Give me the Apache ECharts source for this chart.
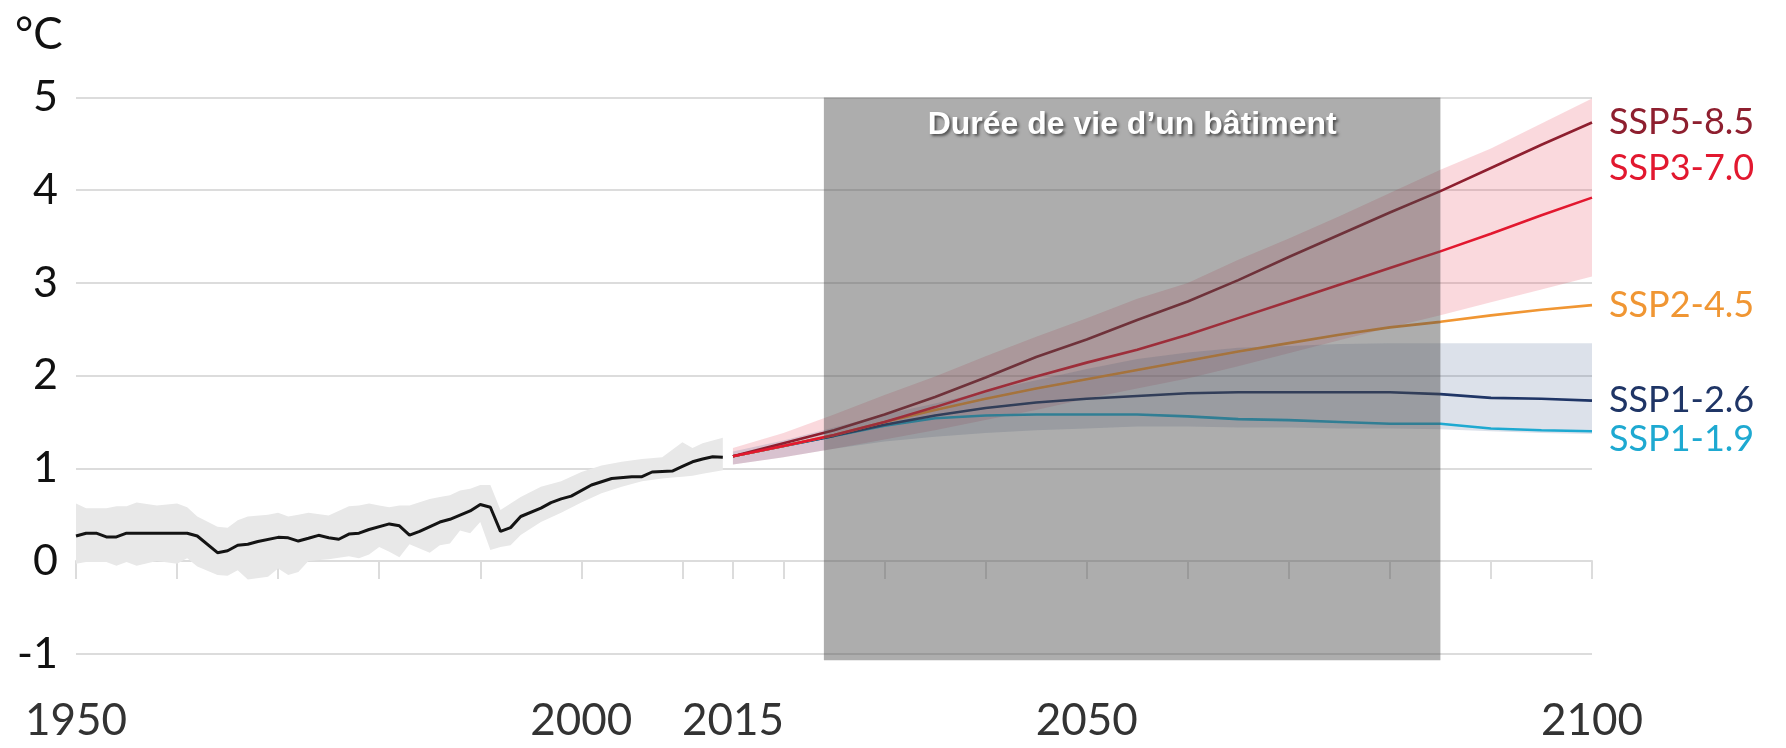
<!DOCTYPE html>
<html>
<head>
<meta charset="utf-8">
<title>Réchauffement et durée de vie d'un bâtiment</title>
<script src="https://cdn.jsdelivr.net/npm/echarts@6/dist/echarts.min.js"></script>
<style>
  html, body { margin: 0; padding: 0; background: #fff; }
  #chart { width: 1786px; height: 748px; }
</style>
</head>
<body>
<div id="chart"></div>
<script>
// historique (moyenne + fourchette)
const histYears = [1950, 1951, 1952, 1953, 1954, 1955, 1961, 1962, 1964, 1965, 1966, 1967, 1968, 1970, 1971, 1972, 1973, 1974, 1975, 1976, 1977, 1978, 1979, 1981, 1982, 1983, 1984, 1986, 1987, 1989, 1990, 1991, 1992, 1993, 1994, 1996, 1997, 1998, 1999, 2001, 2003, 2005, 2006, 2007, 2009, 2010, 2011, 2012, 2013, 2014]
const histMean = [0.27, 0.30, 0.30, 0.26, 0.26, 0.30, 0.30, 0.27, 0.09, 0.11, 0.17, 0.18, 0.21, 0.255, 0.25, 0.215, 0.245, 0.277, 0.25, 0.235, 0.29, 0.30, 0.34, 0.40, 0.38, 0.28, 0.32, 0.42, 0.45, 0.54, 0.61, 0.58, 0.32, 0.36, 0.48, 0.57, 0.63, 0.67, 0.70, 0.82, 0.89, 0.91, 0.91, 0.96, 0.97, 1.02, 1.07, 1.10, 1.125, 1.12]

const histBandYears = [1950, 1951, 1953, 1954, 1955, 1956, 1958, 1960, 1961, 1962, 1964, 1965, 1966, 1967, 1969, 1970, 1971, 1972, 1973, 1975, 1977, 1978, 1979, 1980, 1981, 1982, 1983, 1985, 1986, 1987, 1988, 1989, 1990, 1991, 1992, 1993, 1994, 1996, 1998, 2000, 2002, 2004, 2006, 2008, 2009, 2010, 2011, 2012, 2014]
const histUpper = [0.62, 0.57, 0.57, 0.59, 0.59, 0.63, 0.60, 0.62, 0.58, 0.48, 0.37, 0.36, 0.44, 0.48, 0.50, 0.52, 0.48, 0.50, 0.52, 0.49, 0.59, 0.60, 0.62, 0.60, 0.58, 0.60, 0.60, 0.67, 0.69, 0.71, 0.76, 0.78, 0.82, 0.82, 0.55, 0.62, 0.69, 0.80, 0.86, 0.96, 1.03, 1.07, 1.10, 1.12, 1.20, 1.28, 1.22, 1.27, 1.33]
const histLower = [-0.03, -0.01, -0.01, -0.05, -0.01, -0.05, 0.00, -0.03, 0.03, -0.06, -0.15, -0.16, -0.10, -0.20, -0.17, -0.08, -0.15, -0.12, 0.00, 0.02, 0.05, 0.03, 0.07, 0.15, 0.10, 0.04, 0.18, 0.09, 0.17, 0.19, 0.33, 0.30, 0.42, 0.12, 0.15, 0.17, 0.28, 0.42, 0.52, 0.63, 0.73, 0.80, 0.86, 0.89, 0.90, 0.91, 0.92, 0.94, 0.98]

// scénarios SSP
const projYears = [2015, 2020, 2025, 2030, 2035, 2040, 2045, 2050, 2055, 2060, 2065, 2070, 2075, 2080, 2085, 2090, 2095, 2100]
const ssp119 = [1.13, 1.24, 1.35, 1.46, 1.54, 1.57, 1.58, 1.58, 1.58, 1.56, 1.53, 1.52, 1.50, 1.48, 1.48, 1.43, 1.41, 1.40]
const ssp126 = [1.13, 1.24, 1.35, 1.47, 1.57, 1.65, 1.71, 1.75, 1.78, 1.81, 1.82, 1.82, 1.82, 1.82, 1.80, 1.76, 1.75, 1.73]
const ssp245 = [1.13, 1.24, 1.36, 1.50, 1.63, 1.75, 1.86, 1.96, 2.06, 2.16, 2.26, 2.35, 2.44, 2.52, 2.58, 2.65, 2.71, 2.76]
const ssp370 = [1.13, 1.24, 1.36, 1.50, 1.66, 1.83, 1.99, 2.14, 2.28, 2.44, 2.62, 2.80, 2.98, 3.16, 3.34, 3.53, 3.73, 3.92]
const ssp585 = [1.13, 1.27, 1.41, 1.58, 1.77, 1.98, 2.20, 2.39, 2.60, 2.80, 3.03, 3.28, 3.52, 3.76, 3.99, 4.24, 4.49, 4.73]

// fourchettes des scénarios
const highUpper = [1.22, 1.38, 1.58, 1.79, 1.99, 2.21, 2.42, 2.62, 2.83, 3.00, 3.25, 3.48, 3.72, 3.97, 4.22, 4.45, 4.72, 4.99]
const highLower = [1.04, 1.12, 1.21, 1.31, 1.41, 1.52, 1.63, 1.75, 1.86, 1.97, 2.10, 2.24, 2.38, 2.52, 2.65, 2.79, 2.93, 3.07]
const lowUpper = [1.18, 1.30, 1.44, 1.58, 1.70, 1.83, 1.95, 2.07, 2.18, 2.25, 2.30, 2.32, 2.34, 2.35, 2.35, 2.35, 2.35, 2.35]
const lowLower = [1.04, 1.12, 1.21, 1.29, 1.34, 1.38, 1.41, 1.43, 1.45, 1.45, 1.44, 1.44, 1.43, 1.43, 1.42, 1.40, 1.38, 1.37]

// durée de vie d'un bâtiment
const lifespan = [2024, 2085]
const lifespanRange = [-1.07, 5]
const lifespanLabel = 'Durée de vie d’un bâtiment'

const xTicks = [1950, 1960, 1970, 1980, 1990, 2000, 2010, 2015, 2020, 2030, 2040, 2050, 2060, 2070, 2080, 2090, 2100]
const xLabels = [1950, 2000, 2015, 2050, 2100]

const chart = echarts.init(document.getElementById('chart'))

function pairs(years, values) {
  return years.map((y, i) => [y, values[i]])
}

function band(years, upper, lower, color) {
  return {
    type: 'custom',
    silent: true,
    data: [[years[0], upper[0]]],
    renderItem: (params, api) => {
      const top = years.map((y, i) => api.coord([y, upper[i]]))
      const bottom = years.map((y, i) => api.coord([y, lower[i]])).reverse()
      return {
        type: 'polygon',
        shape: { points: top.concat(bottom) },
        style: { fill: color }
      }
    }
  }
}

function ssp(name, values, color, offset) {
  return {
    name: name,
    type: 'line',
    data: pairs(projYears, values),
    showSymbol: false,
    silent: true,
    lineStyle: { color: color, width: 2.6 },
    endLabel: {
      show: true,
      formatter: '{a}',
      color: color,
      fontFamily: 'Lato',
      fontSize: 36,
      distance: 17,
      offset: offset || [0, 0]
    }
  }
}

const option = {
  animation: false,
  title: {
    text: '°C',
    left: 10,
    top: 8,
    textStyle: { fontFamily: 'Lato', fontSize: 44, fontWeight: 'normal', color: '#111' }
  },
  grid: { left: 76, right: 194, top: 97.5, bottom: 94.3 },
  xAxis: {
    type: 'value',
    min: 1950,
    max: 2100,
    axisLine: { lineStyle: { color: '#dcdcdc', width: 2 } },
    axisTick: { customValues: xTicks, length: 18, lineStyle: { color: '#dcdcdc', width: 2 } },
    axisLabel: {
      customValues: xLabels,
      formatter: v => String(v),
      margin: 45,
      fontFamily: 'Lato',
      fontSize: 44,
      color: '#333'
    },
    splitLine: { show: false }
  },
  yAxis: {
    type: 'value',
    min: -1,
    max: 5,
    interval: 1,
    axisLine: { show: false },
    axisTick: { show: false },
    axisLabel: { margin: 18, fontFamily: 'Lato', fontSize: 43, color: '#111' },
    splitLine: { lineStyle: { color: '#dcdcdc', width: 2 } }
  },
  series: [
    band(histBandYears, histUpper, histLower, '#e8e8e8'),
    band(projYears, highUpper, highLower, 'rgba(232, 80, 100, 0.22)'),
    band(projYears, lowUpper, lowLower, 'rgba(60, 90, 140, 0.18)'),
    {
      name: 'Historique',
      type: 'line',
      data: pairs(histYears, histMean),
      showSymbol: false,
      silent: true,
      lineStyle: { color: '#141414', width: 3 }
    },
    ssp('SSP1-1.9', ssp119, '#1ea9d1', [0, 8]),
    ssp('SSP1-2.6', ssp126, '#1f3566'),
    ssp('SSP2-4.5', ssp245, '#f09633'),
    ssp('SSP5-8.5', ssp585, '#8e1f2f'),
    ssp('SSP3-7.0', ssp370, '#e2182f', [0, -29]),
    {
      type: 'custom',
      silent: true,
      clip: false,
      z: 5,
      data: [[lifespan[0], lifespan[1]]],
      renderItem: (params, api) => {
        const tl = api.coord([api.value(0), lifespanRange[1]])
        const br = api.coord([api.value(1), lifespanRange[0]])
        return {
          type: 'group',
          children: [
            {
              type: 'rect',
              shape: { x: tl[0], y: tl[1], width: br[0] - tl[0], height: br[1] - tl[1] },
              style: { fill: 'rgba(73, 73, 73, 0.45)' }
            },
            {
              type: 'text',
              x: (tl[0] + br[0]) / 2,
              y: tl[1] + 28,
              style: {
                text: lifespanLabel,
                fill: '#fff',
                font: 'bold 32px "Liberation Sans", Arial, sans-serif',
                align: 'center',
                verticalAlign: 'middle',
                textShadowColor: 'rgba(0, 0, 0, 0.55)',
                textShadowBlur: 3,
                textShadowOffsetX: 2,
                textShadowOffsetY: 2
              }
            }
          ]
        }
      }
    }
  ]
}

chart.setOption(option)
</script>
</body>
</html>
